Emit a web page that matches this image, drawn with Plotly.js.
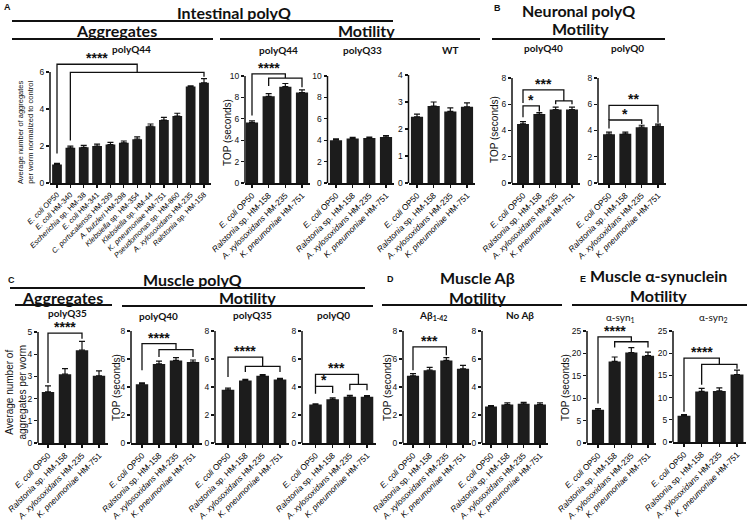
<!DOCTYPE html>
<html>
<head>
<meta charset="utf-8">
<script src="https://cdn.plot.ly/plotly-3.0.1.min.js"></script>
<style>
  body { margin: 0; background: #fff; }
  #fig { width: 748px; height: 525px; }
</style>
</head>
<body>
<div id="fig"></div>
<script>
// strains on the x axes
var strainsA = ["E. coli OP50", "E. coli HM-340", "Escherichia sp. HM-38", "E. coli HM-341",
  "C. portucalensis HM-299", "A. butzleri HM-298", "Klebsiella sp. HM-354", "Klebsiella sp. HM-44",
  "K. pneumoniae HM-751", "Pseudomonas sp. HM-860", "A. xylosoxidans HM-235", "Ralstonia sp. HM-158"];
var strains = ["E. coli OP50", "Ralstonia sp. HM-158", "A. xylosoxidans HM-235", "K. pneumoniae HM-751"];

// A - intestinal polyQ44 aggregates (normalized)
var aggQ44 = [1.0, 1.9, 1.93, 2.0, 2.08, 2.17, 2.37, 3.07, 3.4, 3.62, 5.22, 5.42];
var aggQ44Err = [0.06, 0.09, 0.1, 0.1, 0.12, 0.1, 0.12, 0.12, 0.15, 0.15, 0.03, 0.22];
// A - intestinal motility (TOP, seconds)
var topQ44 = [5.65, 8.1, 9.0, 8.45];
var topQ44Err = [0.15, 0.25, 0.3, 0.25];
var topQ33 = [4.0, 4.15, 4.2, 4.3];
var topQ33Err = [0.12, 0.12, 0.1, 0.12];
var topWT = [2.45, 2.85, 2.65, 2.82];
var topWTErr = [0.1, 0.15, 0.13, 0.15];
// B - neuronal polyQ motility
var topNQ40 = [4.5, 5.25, 5.6, 5.6];
var topNQ40Err = [0.17, 0.12, 0.18, 0.18];
var topNQ0 = [3.72, 3.75, 4.25, 4.35];
var topNQ0Err = [0.15, 0.12, 0.15, 0.13];
// C - muscle polyQ
var aggQ35 = [2.3, 3.1, 4.18, 3.03];
var aggQ35Err = [0.27, 0.25, 0.4, 0.22];
var topMQ40 = [4.2, 5.65, 5.9, 5.78];
var topMQ40Err = [0.1, 0.2, 0.2, 0.15];
var topMQ35 = [3.8, 4.47, 4.8, 4.53];
var topMQ35Err = [0.12, 0.08, 0.08, 0.08];
var topMQ0 = [2.75, 3.12, 3.3, 3.3];
var topMQ0Err = [0.05, 0.1, 0.1, 0.08];
// D - muscle Abeta
var topAb = [4.8, 5.2, 5.9, 5.3];
var topAbErr = [0.15, 0.2, 0.2, 0.25];
var topNoAb = [2.6, 2.75, 2.8, 2.75];
var topNoAbErr = [0.07, 0.12, 0.1, 0.12];
// E - muscle alpha-synuclein
var topSyn1 = [7.4, 18.2, 20.2, 19.5];
var topSyn1Err = [0.3, 1.0, 1.1, 0.8];
var topSyn2 = [5.9, 11.4, 11.5, 15.2];
var topSyn2Err = [0.25, 0.7, 0.7, 1.0];

var W = 748, H = 525;
function px(x) { return x / W; }
function py(y) { return 1 - y / H; }

// italic genus / species, strain code upright
function fmt(s) {
  var i = s.lastIndexOf(" ");
  var name = s.slice(0, i), code = s.slice(i);
  if (name.slice(-4) == " sp.") return "<i>" + name.slice(0, -4) + "</i> sp." + code;
  return "<i>" + name + "</i>" + code;
}

// pixel placement of every subplot (axis x, first/last bar centre, y of 0 and of top tick)
var panels = [
  {cats: strainsA, y: aggQ44, e: aggQ44Err, ax: 50, b0: 57, b1: 204, y0: 183, yt: 72, top: 58, tmax: 6, dt: 2, lf: 7.5,
    br: [{from: 0, fromY: 1.6, top: 6.42, to: [1, 11], toY: 5.98, ends: [2.3, 5.75], s: "****"}]},
  {cats: strains, y: topQ44, e: topQ44Err, ax: 245, b0: 252, b1: 302, y0: 183, yt: 76, top: 58, tmax: 10, dt: 2, lf: 8.3,
    br: [{from: 0, fromY: 6.3, top: 10.2, to: [1, 3], toY: 9.8, ends: [9.07, 8.95], s: "****"}]},
  {cats: strains, y: topQ33, e: topQ33Err, ax: 327.5, b0: 336, b1: 386, y0: 183, yt: 76, top: 58, tmax: 10, dt: 2, lf: 8.3, br: []},
  {cats: strains, y: topWT, e: topWTErr, ax: 408.5, b0: 417, b1: 467, y0: 183, yt: 75, top: 58, tmax: 4, dt: 1, lf: 8.3, br: []},
  {cats: strains, y: topNQ40, e: topNQ40Err, ax: 512, b0: 523, b1: 572, y0: 183, yt: 78, top: 58, tmax: 8, dt: 2, lf: 8.3,
    br: [{from: 0, fromY: 6.1, top: 7.1, to: [2, 3], toY: 6.25, ends: [6.0, 6.0], s: "***"},
         {from: 0, fromY: 5.0, top: 5.87, to: [1, 1], ends: [5.45, 5.45], s: "*"}]},
  {cats: strains, y: topNQ0, e: topNQ0Err, ax: 598, b0: 609, b1: 658, y0: 183, yt: 78, top: 58, tmax: 8, dt: 2, lf: 8.3,
    br: [{from: 0, fromY: 4.8, top: 5.92, to: [3, 3], ends: [4.6, 4.6], s: "**"},
         {from: 0, fromY: 4.15, top: 4.8, to: [2, 2], ends: [4.5, 4.5], s: "*"}]},
  {cats: strains, y: aggQ35, e: aggQ35Err, ax: 38, b0: 48, b1: 99, y0: 443, yt: 332, top: 326, tmax: 5, dt: 1, lf: 8.3,
    br: [{from: 0, fromY: 2.7, top: 4.95, to: [2, 2], ends: [4.7, 4.7], s: "****"}]},
  {cats: strains, y: topMQ40, e: topMQ40Err, ax: 131, b0: 142, b1: 193, y0: 443, yt: 331, top: 326, tmax: 8, dt: 2, lf: 8.3,
    br: [{from: 0, fromY: 5.2, top: 7.1, to: [1, 3], toY: 6.67, ends: [6.14, 6.14], s: "****"}]},
  {cats: strains, y: topMQ35, e: topMQ35Err, ax: 215, b0: 228, b1: 280, y0: 443, yt: 331, top: 326, tmax: 8, dt: 2, lf: 8.3,
    br: [{from: 0, fromY: 4.71, top: 6.14, to: [1, 3], toY: 5.48, ends: [5.07, 5.07], s: "****"}]},
  {cats: strains, y: topMQ0, e: topMQ0Err, ax: 302, b0: 315.5, b1: 367, y0: 443, yt: 331, top: 326, tmax: 8, dt: 2, lf: 8.3,
    br: [{from: 0, fromY: 4.05, top: 4.9, to: [2, 3], toY: 4.19, ends: [3.76, 3.76], s: "***"},
         {from: 0, fromY: 3.52, top: 4.05, to: [1, 1], ends: [3.57, 3.57], s: "*"}]},
  {cats: strains, y: topAb, e: topAbErr, ax: 403, b0: 413, b1: 463, y0: 443, yt: 331, top: 326, tmax: 8, dt: 2, lf: 8.3,
    br: [{from: 0, fromY: 5.19, top: 6.86, to: [2, 2], ends: [6.26, 6.26], s: "***"}]},
  {cats: strains, y: topNoAb, e: topNoAbErr, ax: 482, b0: 491, b1: 540, y0: 443, yt: 331, top: 326, tmax: 8, dt: 2, lf: 8.3, br: []},
  {cats: strains, y: topSyn1, e: topSyn1Err, ax: 587, b0: 598, b1: 648, y0: 443, yt: 331, top: 326, tmax: 25, dt: 5, lf: 8.3,
    br: [{from: 0, fromY: 8.8, top: 23.7, to: [1, 3], toY: 22.6, ends: [21.3, 21.3], s: "****"}]},
  {cats: strains, y: topSyn2, e: topSyn2Err, ax: 673, b0: 684, b1: 737, y0: 442, yt: 331, top: 326, tmax: 25, dt: 5, lf: 8.3,
    br: [{from: 0, fromY: 6.8, top: 18.9, to: [1, 3], toY: 17.5, ends: [12.9, 16.5], s: "****"}]}
];

var layout = {
  width: W, height: H,
  margin: {l: 0, r: 0, t: 0, b: 0},
  paper_bgcolor: "#fff", plot_bgcolor: "rgba(0,0,0,0)",
  showlegend: false, bargap: 0.27,
  font: {family: "Liberation Sans, Arial, sans-serif", color: "#111"},
  shapes: [], annotations: []
};
var data = [];
var ink = "#111";

panels.forEach(function (p, i) {
  var k = i + 1, xs = k == 1 ? "" : String(k);
  var n = p.cats.length;
  var sp = (p.b1 - p.b0) / (n - 1);
  var idx = p.cats.map(function (c, j) { return j; });
  var rtop = p.tmax * (p.y0 - p.top) / (p.y0 - p.yt);
  var ticks = [];
  for (var t = 0; t <= p.tmax; t += p.dt) ticks.push(t);

  data.push({
    type: "bar", x: idx, y: p.y, xaxis: "x" + xs, yaxis: "y" + xs,
    marker: {color: "#1c1c1c", line: {width: 0}},
    error_y: {type: "data", array: p.e, symmetric: false, arrayminus: p.e.map(function () { return 0; }),
      color: ink, thickness: 1.2, width: 3},
    hoverinfo: "skip"
  });

  layout["xaxis" + xs] = {
    domain: [px(p.ax), px(p.b1 + sp / 2)], range: [-(p.b0 - p.ax) / sp, n - 0.5],
    anchor: "y" + xs, tickvals: idx, ticktext: p.cats.map(fmt), tickangle: -45,
    ticks: "outside", ticklen: 3, tickwidth: 1.2, tickcolor: ink,
    showline: true, linewidth: 1.5, linecolor: ink, showgrid: false, zeroline: false,
    tickfont: {size: p.lf, color: "#000"}, fixedrange: true
  };
  layout["yaxis" + xs] = {
    domain: [py(p.y0), py(p.top)], range: [0, rtop], anchor: "x" + xs,
    tickvals: ticks, ticks: "outside", ticklen: 3, tickwidth: 1.2, tickcolor: ink,
    showline: false, showgrid: false, zeroline: false,
    tickfont: {size: 8.5, color: ink}, fixedrange: true
  };
  // y axis line only up to the top tick
  layout.shapes.push({type: "line", xref: "paper", yref: "y" + xs, x0: px(p.ax), x1: px(p.ax),
    y0: 0, y1: p.tmax, line: {color: ink, width: 1.5}});

  // significance brackets
  p.br.forEach(function (b) {
    var a = b.to[0], z = b.to[1], path, sx;
    if (a == z) {
      path = "M" + b.from + "," + b.fromY + " L" + b.from + "," + b.top + " L" + a + "," + b.top + " L" + a + "," + b.ends[0];
      sx = (b.from + a) / 2;
    } else {
      var mid = (a + z) / 2;
      path = "M" + b.from + "," + b.fromY + " L" + b.from + "," + b.top + " L" + mid + "," + b.top + " L" + mid + "," + b.toY +
        " M" + a + "," + b.ends[0] + " L" + a + "," + b.toY + " L" + z + "," + b.toY + " L" + z + "," + b.ends[1];
      sx = (b.from + mid) / 2;
    }
    layout.shapes.push({type: "path", xref: "x" + xs, yref: "y" + xs, path: path, line: {color: ink, width: 1.3}});
    layout.annotations.push({xref: "x" + xs, yref: "y" + xs, x: sx, y: b.top, yanchor: "bottom", yshift: -4,
      text: "<b>" + b.s + "</b>", showarrow: false, font: {size: 14, color: ink, family: "Liberation Sans, Arial"}});
  });
});

// headers, underlines, subtitles, axis titles
var head = "Lato, Carlito, sans-serif";
function txt(x, y, s, size, opts) {
  var a = {xref: "paper", yref: "paper", x: px(x), y: py(y), text: s, showarrow: false,
    xanchor: "center", yanchor: "middle", font: {size: size, color: ink, family: head}};
  for (var key in opts || {}) a[key] = opts[key];
  layout.annotations.push(a);
}
function rule(x0, x1, y) {
  layout.shapes.push({type: "line", xref: "paper", yref: "paper", x0: px(x0), x1: px(x1), y0: py(y), y1: py(y),
    line: {color: ink, width: 1.8}});
}

txt(234, 12, "<b>Intestinal polyQ</b>", 16);
rule(12, 393, 21);
txt(116, 31, "<b>Aggregates</b>", 16);
rule(12, 213, 39);
txt(366, 31, "<b>Motility</b>", 16);
rule(220, 480, 39);
txt(578, 10, "<b>Neuronal polyQ</b>", 16);
txt(580, 29, "<b>Motility</b>", 16);
rule(492, 665, 39);

txt(193, 279, "<b>Muscle polyQ</b>", 16);
rule(10, 365, 288);
txt(62, 297, "<b>Aggregates</b>", 16);
rule(15, 112, 305);
txt(247, 297, "<b>Motility</b>", 16);
rule(122, 373, 306);
txt(477, 277, "<b>Muscle Aβ</b>", 16);
txt(477, 297, "<b>Motility</b>", 16);
rule(382, 562, 305);
txt(658, 275, "<b>Muscle α-synuclein</b>", 16);
txt(658, 295, "<b>Motility</b>", 16);
rule(572, 747, 305);

var letter = {family: "Liberation Sans, Arial", size: 9, color: ink};
txt(8, 7, "<b>A</b>", 9, {font: letter});
txt(497, 8, "<b>B</b>", 9, {font: letter});
txt(11, 280, "<b>C</b>", 9, {font: letter});
txt(390, 279, "<b>D</b>", 9, {font: letter});
txt(583, 279, "<b>E</b>", 9, {font: letter});

txt(131, 49, "<b>polyQ44</b>", 10);
txt(278, 50, "<b>polyQ44</b>", 10);
txt(362, 50, "<b>polyQ33</b>", 10);
txt(450, 50, "<b>WT</b>", 10);
txt(543, 48, "<b>polyQ40</b>", 10);
txt(627, 48, "<b>polyQ0</b>", 10);
txt(67, 313, "<b>polyQ35</b>", 10);
txt(158, 316, "<b>polyQ40</b>", 10);
txt(252, 315, "<b>polyQ35</b>", 10);
txt(333, 315, "<b>polyQ0</b>", 10);
txt(433, 315, "<b>Aβ<sub>1-42</sub></b>", 10);
txt(520, 315, "<b>No Aβ</b>", 10);
txt(620, 317, "α-syn<sub>1</sub>", 10);
txt(713, 317, "α-syn<sub>2</sub>", 10);

var axf = {family: "Liberation Sans, Arial", size: 10, color: ink};
txt(25, 132, "Average number of aggregates<br>per worm normalized to control", 7.5,
  {textangle: -90, font: {family: "Liberation Sans, Arial", size: 7.5, color: ink}});
txt(227, 133, "TOP (seconds)", 10, {textangle: -90, font: axf});
txt(494, 130, "TOP (seconds)", 10, {textangle: -90, font: axf});
txt(15.5, 392, "Average number of<br>aggregates per worm", 10, {textangle: -90, font: axf});
txt(116, 388, "TOP (seconds)", 10, {textangle: -90, font: axf});
txt(387, 387, "TOP (seconds)", 10, {textangle: -90, font: axf});
txt(565, 388, "TOP (seconds)", 10, {textangle: -90, font: axf});

Plotly.newPlot("fig", data, layout, {displayModeBar: false, staticPlot: true});
</script>
</body>
</html>
